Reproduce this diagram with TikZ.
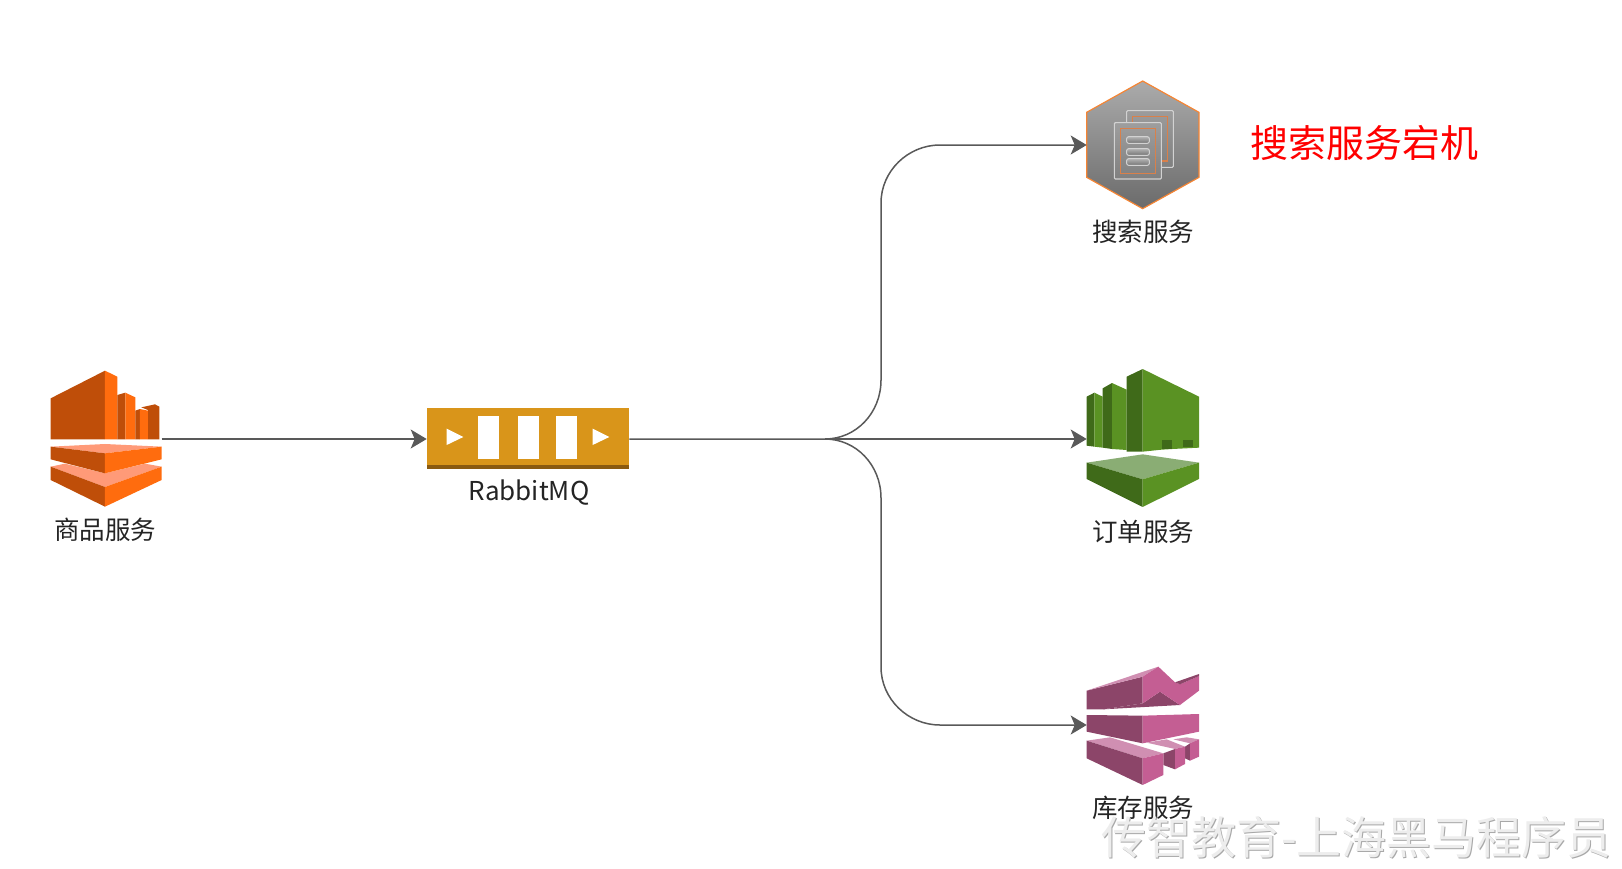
\documentclass[tikz,border=0pt]{standalone}
\usepackage{fontspec}
\usetikzlibrary{arrows.meta}
\newfontfamily\cjk{Noto Sans CJK SC}
\newcommand{\embossed}[1]{\rlap{\raisebox{-1.2pt}{\kern1.0pt\textcolor{wmshadow}{#1}}}\textcolor{wmface}{#1}}
\definecolor{wmshadow}{HTML}{A8A8A8}
\definecolor{wmface}{HTML}{EDEDED}
\definecolor{lineC}{HTML}{595959}
\definecolor{orD}{HTML}{BF4E09}
\definecolor{orL}{HTML}{FF6C0E}
\definecolor{orT}{HTML}{FF9A78}
\definecolor{gold}{HTML}{D9951A}
\definecolor{goldD}{HTML}{8A5A10}
\definecolor{grD}{HTML}{3F6A19}
\definecolor{grL}{HTML}{5A9223}
\definecolor{grT}{HTML}{8AAD74}
\definecolor{piD}{HTML}{8C4569}
\definecolor{piL}{HTML}{C45E93}
\definecolor{piT}{HTML}{D08FB2}
\definecolor{hexO}{HTML}{F58534}
\definecolor{docE}{HTML}{D2D2D2}
\definecolor{docO}{HTML}{D9804A}
\tikzset{
  iconbox/.style={inner sep=0pt,outer sep=0pt,minimum width=#1,minimum height=100pt},
  svclabel/.style={font=\cjk\fontsize{25.5}{28}\selectfont,text=black!86,inner sep=0pt},
  conn/.style={draw=lineC,line width=1.5pt},
  head/.style={-{Stealth[length=16pt,width=19pt,inset=4pt]}},
  icon/.style={x=0.3333pt,y=-0.3333pt},
}
\begin{document}
\begin{tikzpicture}[x=1pt,y=-1pt]
\useasboundingbox (0,0) rectangle (1622,868);

% producer icon
\begin{scope}[shift={(20,350)},icon]
\fill[orD] (92,145)--(255,62)--(255,268)--(92,268)--cycle;
\fill[orL] (255,62)--(292,80)--(292,268)--(255,268)--cycle;
\fill[orD] (292,135)--(316,128)--(316,268)--(292,268)--cycle;
\fill[orL] (316,128)--(346,142)--(346,268)--(316,268)--cycle;
\fill[orD] (346,182)--(360,177)--(360,268)--(346,268)--cycle;
\fill[orD] (364,172)--(405,163)--(418,170)--(418,268)--(384,268)--(384,180)--cycle;
\fill[orL] (360,177)--(384,182)--(384,268)--(360,268)--cycle;
\fill[orT] (92,350)--(135,341)--(255,370)--(375,341)--(425,350)--(255,411)--cycle;
\fill[orD] (92,350)--(255,411)--(255,470)--(92,390)--cycle;
\fill[orL] (255,411)--(425,350)--(425,390)--(255,470)--cycle;
\fill[orT] (92,290)--(255,282)--(425,290)--(255,310)--cycle;
\fill[orD] (92,290)--(255,310)--(255,370)--(92,328)--cycle;
\fill[orL] (255,310)--(425,290)--(425,328)--(255,370)--cycle;
\end{scope}
\node[iconbox=111pt] (prod) at (106,439) {};
\node[svclabel] (prodL) at (105,530) {商品服务};

% RabbitMQ icon
\begin{scope}[shift={(410,390)},icon]
\fill[gold] (50,55) rectangle (658,238);
\fill[goldD] (50,226) rectangle (658,238);
\fill[white] (205,79) rectangle (268,208);
\fill[white] (325,79) rectangle (388,208);
\fill[white] (439,79) rectangle (502,208);
\fill[white] (110,116)--(160,141)--(110,165)--cycle;
\fill[white] (548,116)--(598,141)--(548,165)--cycle;
\end{scope}
\node[iconbox=202.6pt,minimum height=61pt] (mq) at (528,439) {};
\node[svclabel,font=\cjk\fontsize{26}{28}\selectfont] (mqL) at (529,493) {RabbitMQ};

% search icon
\begin{scope}[shift={(1060,70)},icon]
\shade[top color=black!33,bottom color=black!58,draw=hexO,line width=1.2pt]
  (248,33)--(417,127)--(417,322)--(248,416)--(80,322)--(80,127)--cycle;
\draw[docE,line width=1.1pt,rounded corners=1pt] (200,122) rectangle (340,292);
\draw[docO,line width=1.4pt] (218,140) rectangle (322,273);
\shade[top color=black!38,bottom color=black!50,draw=docE,line width=1.1pt,rounded corners=1pt] (163,158) rectangle (304,327);
\draw[docO,line width=1.4pt] (181,176) rectangle (286,310);
\foreach \yy in {200,236,266}
  \shade[top color=black!30,bottom color=black!55,draw=docE,line width=1pt,rounded corners=2pt] (200,\yy) rectangle (268,\yy+20);
\end{scope}
\node[iconbox=112.6pt] (search) at (1143,145) {};
\node[svclabel] (searchL) at (1143,232) {搜索服务};

% order icon
\begin{scope}[shift={(1060,355)},icon]
\fill[grD] (80,125)--(103,113)--(103,275)--(80,272)--cycle;
\fill[grL] (103,113)--(128,125)--(128,278)--(103,275)--cycle;
\fill[grD] (128,100)--(156,84)--(156,282)--(128,278)--cycle;
\fill[grL] (156,84)--(200,104)--(200,285)--(156,282)--cycle;
\fill[grD] (200,65)--(248,42)--(248,290)--(200,290)--cycle;
\fill[grL] (248,42)--(417,125)--(417,278)--(337,282)--(305,284)--(248,290)--cycle;
\fill[grD] (305,255) rectangle (337,282);
\fill[grD] (370,255) rectangle (398,276);
\fill[grT] (248,298)--(417,323)--(248,373)--(80,323)--cycle;
\fill[grD] (80,323)--(248,373)--(248,456)--(80,372)--cycle;
\fill[grL] (248,373)--(417,323)--(417,372)--(248,456)--cycle;
\end{scope}
\node[iconbox=112.6pt] (order) at (1143,439) {};
\node[svclabel] (orderL) at (1143,532) {订单服务};

% stock icon
\begin{scope}[shift={(1060,650)},icon]
\fill[piD] (80,122)--(248,80)--(248,160)--(130,178)--(80,178)--cycle;
\fill[piT] (80,122)--(295,50)--(248,80)--cycle;
\fill[piD] (130,178)--(248,160)--(300,125)--(360,165)--cycle;
\fill[piL] (248,80)--(295,50)--(345,97)--(360,103)--(417,78)--(417,122)--(360,165)--(300,125)--(248,160)--cycle;
\fill[piD] (345,97)--(417,72)--(417,78)--(360,103)--cycle;
\fill[piD] (80,195)--(248,197)--(248,280)--(80,245)--cycle;
\fill[piL] (248,197)--(417,192)--(417,245)--(248,280)--cycle;
\fill[piT] (340,268)--(380,262)--(417,268)--(390,280)--cycle;
\fill[piD] (375,290)--(390,280)--(390,332)--(375,325)--cycle;
\fill[piL] (390,280)--(417,268)--(417,320)--(390,332)--cycle;
\fill[piT] (260,278)--(320,268)--(375,290)--(345,297)--cycle;
\fill[piD] (310,310)--(345,297)--(345,358)--(310,345)--cycle;
\fill[piL] (345,297)--(375,290)--(375,342)--(345,358)--cycle;
\fill[piT] (80,272)--(150,262)--(310,310)--(248,325)--cycle;
\fill[piD] (80,272)--(248,325)--(248,405)--(80,325)--cycle;
\fill[piL] (248,325)--(310,310)--(310,375)--(248,405)--cycle;
\end{scope}
\node[iconbox=112.6pt] (stock) at (1143,725) {};
\node[svclabel] (stockL) at (1143,808) {库存服务};

% connectors
\coordinate (fork) at (825,439);
\draw[conn,head] (prod.east) -- (mq.west);
\draw[conn,head] (mq.east) -- (fork) .. controls (856,439) and (881,413) .. (881,380) -- (881,203) .. controls (881,171) and (908,145) .. (940,145) -- (search.west);
\draw[conn,head] (fork) -- (order.west);
\draw[conn,head] (fork) .. controls (856,439) and (881,465) .. (881,498) -- (881,667) .. controls (881,699) and (908,725) .. (940,725) -- (stock.west);

% annotation
\node[inner sep=0pt,text=red,font=\cjk\fontsize{38}{42}\selectfont] (down) at (1364.5,143) {搜索服务宕机};

% watermark
\node[inner sep=0pt,font=\cjk\fontsize{45}{50}\selectfont,anchor=east] (wm) at (1612,838) {\embossed{传智教育-上海黑马程序员}};
\end{tikzpicture}
\end{document}
